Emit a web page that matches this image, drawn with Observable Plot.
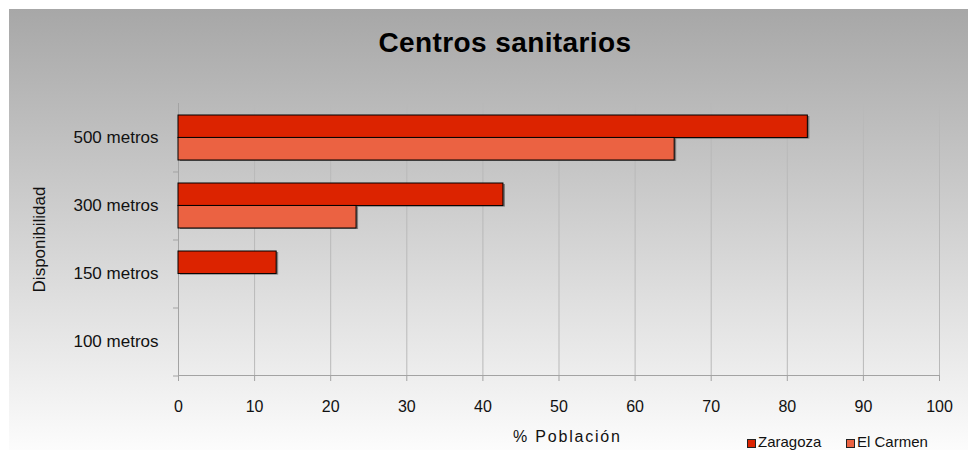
<!DOCTYPE html>
<html>
<head>
<meta charset="utf-8">
<script src="https://cdn.jsdelivr.net/npm/d3@7"></script>
<script src="https://cdn.jsdelivr.net/npm/@observablehq/plot@0.6"></script>
<style>
  body { margin: 0; background: #fff; font-family: "Liberation Sans", Arial, sans-serif; }
  #wrap { position: relative; width: 968px; height: 450px; overflow: hidden; }
  #bg { position: absolute; left: 9px; top: 9px; right: 0; bottom: 0;
        background: linear-gradient(#a7a7a7, #fcfcfc); }
  #chart { position: absolute; left: 0; top: 0; }
  #title { position: absolute; left: 305px; width: 400px; top: 29px; text-align: center;
           font-weight: bold; font-size: 28px; line-height: 28px; letter-spacing: 0.4px; color: #000; }
  #xlabel { position: absolute; left: 513px; top: 429px; font-size: 16px; line-height: 16px;
            letter-spacing: 1.8px; color: #111; white-space: nowrap; }
  .key { position: absolute; top: 434px; font-size: 15px; line-height: 15px; color: #111; white-space: nowrap; }
  .key i { position: absolute; left: -11px; top: 5px; width: 7px; height: 7px; border: 0.5px solid #222; }
</style>
</head>
<body>
<div id="wrap">
  <div id="bg"></div>
  <div id="title">Centros sanitarios</div>
  <div id="chart"></div>
  <div id="xlabel">% Población</div>
</div>
<script>
// Distance bands (top to bottom) and the share of population served, in percent
const categories = ["500 metros", "300 metros", "150 metros", "100 metros"];
const series = ["Zaragoza", "El Carmen"];
const zaragoza = [82.7, 42.7, 12.9, 0];
const elCarmen = [65.2, 23.4, 0, 0];
const colors = ["#dc2300", "#eb6242"];
const xTicks = [0, 10, 20, 30, 40, 50, 60, 70, 80, 90, 100];

const seriesValues = [zaragoza, elCarmen];
const rows = categories.flatMap((category, i) =>
  series.map((name, j) => ({category, series: name, value: seriesValues[j][i]}))
);

const width = 968, height = 450;
const marginTop = 103, marginBottom = 75, marginLeft = 178, marginRight = 29;
const paddingInner = 0.34;
const step = (height - marginTop - marginBottom) / categories.length;
const half = step * (1 - paddingInner) / 2;

// Two bars per band: the first series fills the upper half, the second the lower half
function seriesBars(name, j) {
  const data = rows.filter(d => d.series === name && d.value > 0);
  const inset = j === 0 ? {insetBottom: half} : {insetTop: half};
  return [
    Plot.barX(data, {x: "value", y: "category", ...inset, fill: "#3a3a3a", fillOpacity: 0.55, dx: 2, dy: 1}),
    Plot.barX(data, {x: "value", y: "category", ...inset, fill: "series", stroke: "#000", strokeWidth: 1})
  ];
}

const chart = Plot.plot({
  width, height, marginTop, marginBottom, marginLeft, marginRight,
  style: {background: "transparent", fontFamily: "'Liberation Sans', Arial, sans-serif", overflow: "visible"},
  x: {domain: [0, 100]},
  y: {domain: categories, paddingInner, paddingOuter: paddingInner / 2},
  color: {domain: series, range: colors},
  marks: [
    Plot.gridX(xTicks, {stroke: "#b9b9b9", strokeOpacity: 1}),
    Plot.ruleX([0], {stroke: "#a3a3a3"}),
    Plot.frame({anchor: "bottom", stroke: "#a3a3a3"}),
    ...series.flatMap((name, j) => seriesBars(name, j)),
    Plot.axisX(xTicks, {tickSize: 6, tickPadding: 19, fontSize: 16, stroke: "#a3a3a3", fill: "#111", label: null}),
    Plot.axisY({tickSize: 0, tickPadding: 20, fontSize: 17, fill: "#111",
                label: "Disponibilidad", labelAnchor: "center", labelOffset: 146}),
    Plot.axisY({tickSize: 5, tickFormat: () => "", stroke: "#a3a3a3", dy: step / 2, label: null})
  ]
});
document.getElementById("chart").append(chart);

// Legend built from the same series and colours
const wrap = document.getElementById("wrap");
const keyLeft = [758, 857];
series.forEach((name, j) => {
  const key = document.createElement("div");
  key.className = "key";
  key.style.left = keyLeft[j] + "px";
  const sw = document.createElement("i");
  sw.style.background = colors[j];
  key.append(sw, document.createTextNode(name));
  wrap.append(key);
});
</script>
</body>
</html>
